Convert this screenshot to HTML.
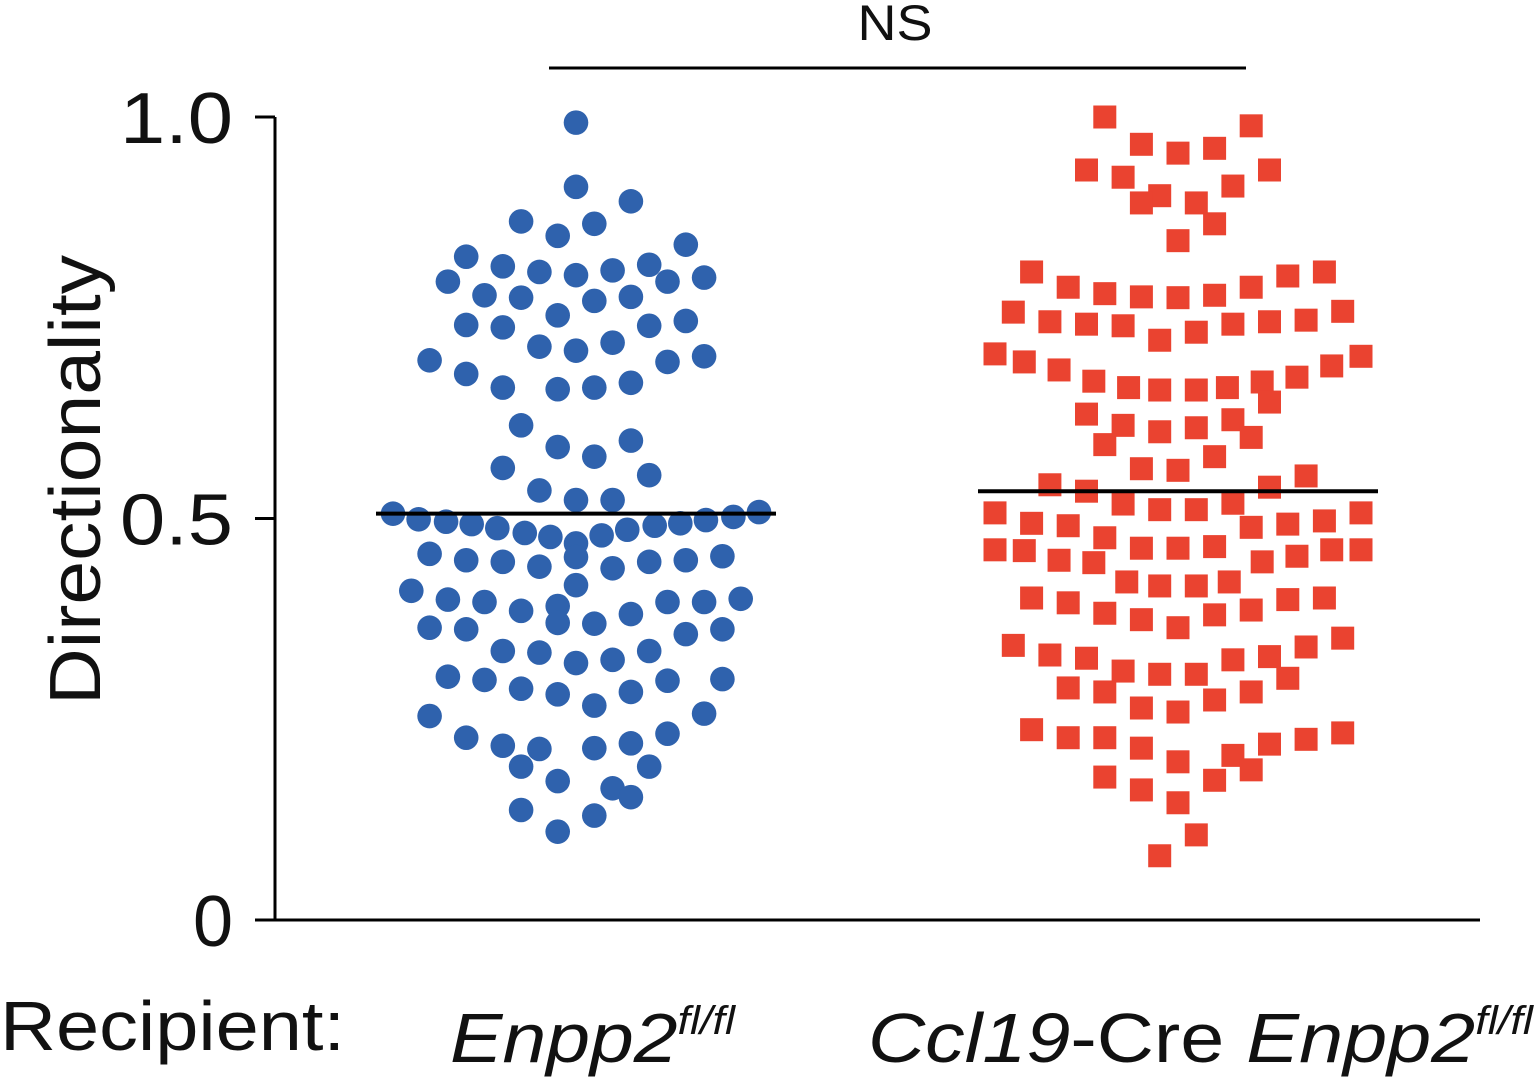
<!DOCTYPE html>
<html><head><meta charset="utf-8"><style>
html,body{margin:0;padding:0;background:#fff;}
svg{display:block;font-family:"Liberation Sans",Arial,sans-serif;}
</style></head><body>
<svg id="chart" width="1535" height="1082" viewBox="0 0 1535 1082" xmlns="http://www.w3.org/2000/svg">
<g id="marks"></g>
<g id="axes"></g>
<text x="0" y="1050" font-size="70" fill="#111" textLength="345" lengthAdjust="spacingAndGlyphs">Recipient:</text>
<text x="450" y="1062" font-size="70" font-style="italic" fill="#111" textLength="285" lengthAdjust="spacingAndGlyphs">Enpp2<tspan font-size="40" dy="-28">fl/fl</tspan></text>
<text x="868" y="1062" font-size="70" fill="#111" textLength="665" lengthAdjust="spacingAndGlyphs"><tspan font-style="italic">Ccl19</tspan>-Cre <tspan font-style="italic">Enpp2</tspan><tspan font-style="italic" font-size="40" dy="-28">fl/fl</tspan></text>
<g transform="translate(100,480) rotate(-90)"><text x="-225" y="0" font-size="72" fill="#111" textLength="450" lengthAdjust="spacingAndGlyphs">Directionality</text></g>
</svg>
<script>
const categories = ["Enpp2 fl/fl", "Ccl19-Cre Enpp2 fl/fl"];
const yTicks = [0, 0.5, 1.0];
const yTickLabels = ["0", "0.5", "1.0"];
const blueValues = [0.993,0.913,0.895,0.870,0.867,0.852,0.841,0.826,0.814,0.807,0.803,0.809,0.816,0.795,0.795,0.800,0.778,0.775,0.771,0.776,0.753,0.741,0.738,0.740,0.746,0.714,0.709,0.719,0.697,0.695,0.702,0.680,0.663,0.661,0.663,0.669,0.616,0.589,0.577,0.597,0.563,0.554,0.535,0.523,0.523,
0.506,0.499,0.496,0.493,0.488,0.482,0.477,0.469,0.479,0.486,0.491,0.494,0.498,0.502,0.508,
0.456,0.448,0.446,0.440,0.452,0.438,0.446,0.448,0.453,
0.410,0.399,0.396,0.385,0.391,0.417,0.381,0.396,0.396,0.400,
0.364,0.362,0.335,0.333,0.370,0.369,0.335,0.356,0.362,
0.303,0.299,0.288,0.281,0.320,0.324,0.284,0.298,0.300,
0.267,0.254,0.227,0.217,0.213,0.214,0.220,0.232,0.257,
0.191,0.173,0.164,0.153,0.191,
0.137,0.110,0.130];
const blueSlots = [0,0,1.5,-1.5,0.5,-0.5,3,-3,-2,-1,0,1,2,-3.5,2.5,3.5,-2.5,-1.5,0.5,1.5,-0.5,-3,-2,2,3,-1,0,1,-4,2.5,3.5,-3,-2,-0.5,0.5,1.5,-1.5,-0.5,0.5,1.5,-2,2,-1,0,1,
-5,-4.3,-3.55,-2.85,-2.15,-1.4,-0.7,0,0.7,1.4,2.15,2.85,3.55,4.3,5,
-4,-3,-2,-1,0,1,2,3,4,
-4.5,-3.5,-2.5,-1.5,-0.5,0,1.5,2.5,3.5,4.5,
-4,-3,-2,-1,-0.5,0.5,2,3,4,
-3.5,-2.5,-1.5,-0.5,0,1,1.5,2.5,4,
0.5,-4,-3,-2,-1,0.5,1.5,2.5,3.5,
-1.5,-0.5,1,1.5,2,
-1.5,-0.5,0.5];
const redValues = [1.000,0.989,0.966,0.955,0.961,0.934,0.925,0.934,0.902,0.893,0.893,0.914,0.867,0.846,
0.807,0.788,0.780,0.776,0.775,0.778,0.788,0.802,0.807,
0.757,0.745,0.742,0.740,0.722,0.732,0.742,0.745,0.747,0.758,
0.705,0.695,0.685,0.671,0.663,0.660,0.660,0.663,0.670,0.676,0.690,0.702,
0.630,0.616,0.608,0.613,0.623,0.645,0.601,0.592,0.577,0.562,0.560,
0.542,0.534,0.539,0.553,
0.518,0.511,0.511,0.519,
0.507,0.494,0.491,0.476,0.489,0.493,0.497,0.507,
0.461,0.460,0.448,0.445,0.463,0.463,0.465,0.446,0.453,0.461,0.461,
0.401,0.395,0.382,0.374,0.364,0.380,0.386,0.399,0.401,
0.421,0.416,0.416,0.421,
0.342,0.330,0.326,0.310,0.306,0.306,0.324,0.328,0.340,0.351,
0.289,0.284,0.264,0.259,0.274,0.284,0.301,
0.237,0.227,0.227,0.214,0.197,0.205,0.219,0.225,0.233,
0.178,0.162,0.146,0.174,0.187,0.106,0.080];
const redSlots = [-2,2,-1,0,1,-2.5,-1.5,2.5,-0.5,-1,0.5,1.5,1,0,
-4,-3,-2,-1,0,1,2,3,4,
-4.5,-3.5,-2.5,-1.5,-0.5,0.5,1.5,2.5,3.5,4.5,
-5,-4.2,-3.25,-2.3,-1.35,-0.5,0.5,1.35,2.3,3.25,4.2,5,
-2.5,-1.5,-0.5,0.5,1.5,2.5,2,-2,1,-1,0,
-3.5,-2.5,2.5,3.5,
-1.5,-0.5,0.5,1.5,
-5,-4,-3,-2,2,3,4,5,
-5,-4.2,-3.25,-2.3,-1,0,1,2.3,3.25,4.2,5,
-4,-3,-2,-1,0,1,2,3,4,
-1.4,-0.5,0.5,1.4,
-4.5,-3.5,-2.5,-1.5,-0.5,0.5,1.5,2.5,3.5,4.5,
-3,-2,-1,0,1,2,3,
-4,-3,-2,-1,0,1.5,2.5,3.5,4.5,
-2,-1,0,1,2,0.5,-0.5];
const means = [0.506, 0.534];

const NS = "http://www.w3.org/2000/svg";
const Y0 = 920, Y1 = 117;
function yScale(v){ return Y0 - v * (Y0 - Y1); }
const centers = [576, 1178];
const slotW = 36.6;
function xScale(g, slot){ return centers[g] + slot * slotW; }
function mk(tag, attrs, parent){
  const e = document.createElementNS(NS, tag);
  for (const k in attrs) e.setAttribute(k, attrs[k]);
  parent.appendChild(e);
  return e;
}
const marks = document.getElementById('marks');
const axes = document.getElementById('axes');

blueValues.forEach((v,i)=>{
  const c = mk('circle', {cx: xScale(0, blueSlots[i]), cy: yScale(v), r: 12.3, fill: '#2f62ad'}, marks);
  
  
});
redValues.forEach((v,i)=>{
  const r = mk('rect', {x: xScale(1, redSlots[i]) - 11.5, y: yScale(v) - 11.5, width: 23, height: 23, fill: '#ea4330'}, marks);
  
  
});
means.forEach((m,g)=>{
  const l = mk('line', {x1: centers[g]-200, x2: centers[g]+200, y1: yScale(m), y2: yScale(m), stroke: '#000', 'stroke-width': 4}, marks);
  
  
});

const ya = mk('line', {x1: 275, x2: 275, y1: Y1, y2: Y0, stroke: '#000', 'stroke-width': 3}, axes);


const xa = mk('line', {x1: 255, x2: 1480, y1: Y0, y2: Y0, stroke: '#000', 'stroke-width': 3}, axes);


yTicks.forEach((t,i)=>{
  const tk = mk('line', {x1: 255, x2: 275, y1: yScale(t), y2: yScale(t), stroke: '#000', 'stroke-width': 3}, axes);
  
  
  const tl = mk('text', {x: 233, y: yScale(t) + 26, 'text-anchor': 'end', 'font-size': 72, fill: '#111'}, axes);
  tl.textContent = yTickLabels[i];
  if (yTickLabels[i].length === 3) { tl.setAttribute('textLength', 113); tl.setAttribute('lengthAdjust', 'spacingAndGlyphs'); }
  
  
});

const sig = mk('line', {x1: 549, x2: 1246, y1: 68, y2: 68, stroke: '#000', 'stroke-width': 3}, axes);


const ns = mk('text', {x: 895, y: 40, 'text-anchor': 'middle', 'font-size': 50, fill: '#111', textLength: 75, lengthAdjust: 'spacingAndGlyphs'}, axes);
ns.textContent = 'NS';


</script>
</body></html>
